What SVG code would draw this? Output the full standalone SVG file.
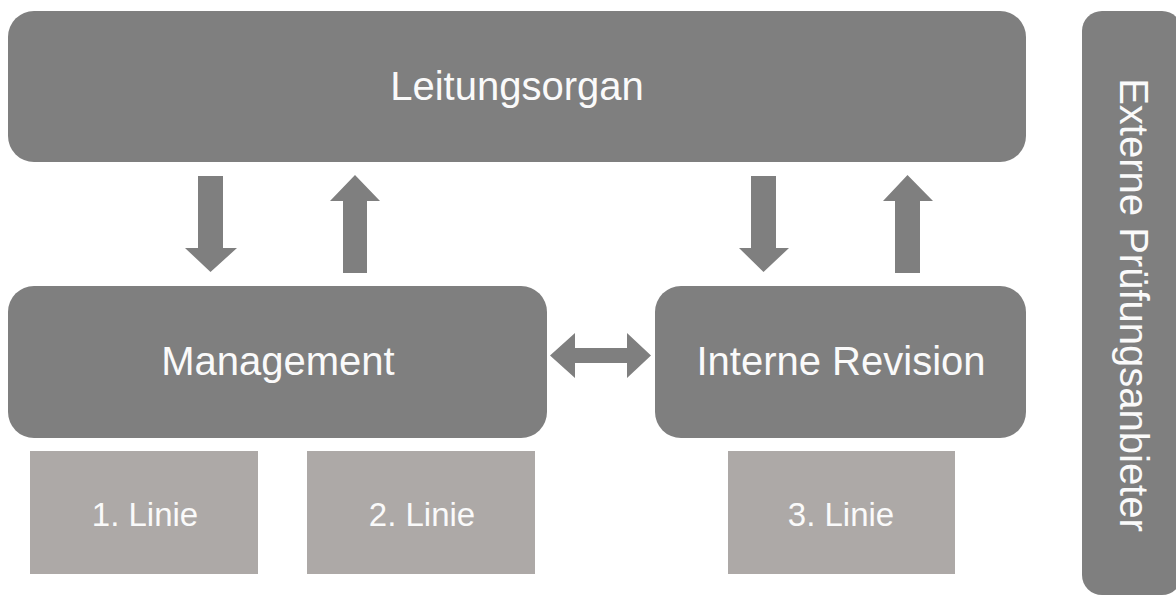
<svg xmlns="http://www.w3.org/2000/svg" width="1176" height="596" viewBox="0 0 1176 596">
  <style>
    .main { fill: #7F7F7F; }
    .line { fill: #ADA9A7; }
    .arrow { fill: #7F7F7F; }
    .lbl { fill: #FAFAFA; font-family: "Liberation Sans", Arial, sans-serif; text-anchor: middle; }
    .big { font-size: 40px; }
    .small { font-size: 33px; }
  </style>
  <rect width="1176" height="596" fill="#FFFFFF"/>

  <g id="leitungsorgan">
    <rect class="main" x="8" y="11" width="1018" height="151" rx="26" ry="26"/>
    <text class="lbl big" x="517" y="100">Leitungsorgan</text>
  </g>

  <g id="management">
    <rect class="main" x="8" y="286" width="539" height="152" rx="26" ry="26"/>
    <text class="lbl big" x="278" y="375">Management</text>
  </g>

  <g id="interne-revision">
    <rect class="main" x="655" y="286" width="371" height="152" rx="26" ry="26"/>
    <text class="lbl big" x="841" y="375">Interne Revision</text>
  </g>

  <g id="linie1">
    <rect class="line" x="30" y="451" width="228" height="123"/>
    <text class="lbl small" x="145" y="526">1. Linie</text>
  </g>

  <g id="linie2">
    <rect class="line" x="307" y="451" width="228" height="123"/>
    <text class="lbl small" x="422" y="526">2. Linie</text>
  </g>

  <g id="linie3">
    <rect class="line" x="728" y="451" width="227" height="123"/>
    <text class="lbl small" x="841" y="526">3. Linie</text>
  </g>

  <g id="externe-pruefungsanbieter">
    <rect class="main" x="1082" y="11" width="100" height="584" rx="20" ry="20"/>
    <text class="lbl big" transform="translate(1120,305) rotate(90)" x="0" y="0">Externe Prüfungsanbieter</text>
  </g>

  <g id="connectors">
    <polygon class="arrow" points="198,176 223,176 223,248 237,248 210.5,272 185,248 198,248"/>
    <polygon class="arrow" points="355,175 380,201 367,201 367,273 343,273 343,201 330,201"/>
    <polygon class="arrow" points="751,176 776,176 776,248 789,248 763.5,272 739,248 751,248"/>
    <polygon class="arrow" points="907.5,175 933,201 920,201 920,273 895,273 895,201 883,201"/>
    <polygon class="arrow" points="550,355.5 575,333 575,348 627,348 627,333 651,355.5 627,378 627,363 575,363 575,378"/>
  </g>
</svg>
